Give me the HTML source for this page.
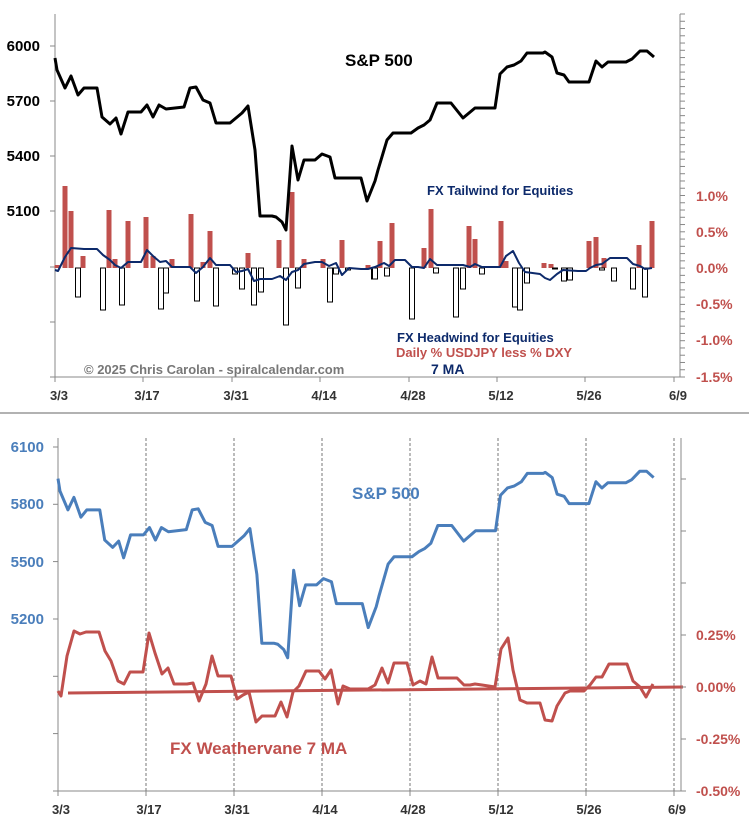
<!DOCTYPE html><html><head><meta charset="utf-8"><style>
body{margin:0;background:#fff;width:749px;height:824px;overflow:hidden}
svg text{font-family:"Liberation Sans",sans-serif;font-weight:bold}
</style></head><body>
<svg id="s" width="749" height="824" xmlns="http://www.w3.org/2000/svg">
<rect width="749" height="824" fill="#fff"/>
<line x1="0" y1="413" x2="749" y2="413" stroke="#999" stroke-width="1.5"/>
<g stroke="#888" stroke-width="1" fill="none">
<line x1="55" y1="14" x2="55" y2="377"/>
<line x1="55" y1="377" x2="680" y2="377"/>
<line x1="680" y1="14" x2="680" y2="377"/>
</g>
<g font-size="15" fill="#000" text-anchor="end">
<text x="40" y="51">6000</text><text x="40" y="106">5700</text><text x="40" y="161">5400</text><text x="40" y="216">5100</text>
</g>
<g font-size="14" fill="#c0504d">
<text x="696" y="201">1.0%</text><text x="696" y="237">0.5%</text><text x="696" y="273">0.0%</text>
<text x="696" y="309">-0.5%</text><text x="696" y="345">-1.0%</text><text x="696" y="382">-1.5%</text>
</g>
<g font-size="13" fill="#333" text-anchor="middle">
<text x="59" y="400">3/3</text><text x="147" y="400">3/17</text><text x="236" y="400">3/31</text><text x="324" y="400">4/14</text>
<text x="413" y="400">4/28</text><text x="501" y="400">5/12</text><text x="589" y="400">5/26</text><text x="678" y="400">6/9</text>
</g>
<text x="345" y="66" font-size="17" fill="#000">S&amp;P 500</text>
<text x="427" y="195" font-size="13" fill="#0d2a6b">FX Tailwind for Equities</text>
<text x="397" y="342" font-size="13" fill="#0d2a6b">FX Headwind for Equities</text>
<text x="396" y="357" font-size="13" fill="#c0504d">Daily % USDJPY less % DXY</text>
<text x="431" y="374" font-size="14" fill="#0d2a6b">7 MA</text>
<text x="84" y="374" font-size="13" fill="#777">© 2025 Chris Carolan - spiralcalendar.com</text>
<g stroke="#888" stroke-width="1" fill="none">
<line x1="58" y1="438" x2="58" y2="791"/>
<line x1="58" y1="791" x2="681" y2="791"/>
<line x1="681" y1="438" x2="681" y2="791"/>
</g>
<g stroke="#777" stroke-width="1" stroke-dasharray="3,2">
<line x1="146" y1="438" x2="146" y2="791"/><line x1="234" y1="438" x2="234" y2="791"/><line x1="322" y1="438" x2="322" y2="791"/>
<line x1="410" y1="438" x2="410" y2="791"/><line x1="498" y1="438" x2="498" y2="791"/><line x1="586" y1="438" x2="586" y2="791"/><line x1="674" y1="438" x2="674" y2="791"/>
</g>
<g font-size="15" fill="#4a7ebb" text-anchor="end">
<text x="44" y="452">6100</text><text x="44" y="509">5800</text><text x="44" y="567">5500</text><text x="44" y="624">5200</text>
</g>
<g font-size="14" fill="#c0504d">
<text x="696" y="640">0.25%</text><text x="696" y="692">0.00%</text><text x="696" y="744">-0.25%</text><text x="696" y="796">-0.50%</text>
</g>
<g font-size="13" fill="#333" text-anchor="middle">
<text x="61" y="814">3/3</text><text x="149" y="814">3/17</text><text x="237" y="814">3/31</text><text x="325" y="814">4/14</text>
<text x="413" y="814">4/28</text><text x="501" y="814">5/12</text><text x="589" y="814">5/26</text><text x="677" y="814">6/9</text>
</g>
<text x="352" y="499" font-size="17" fill="#4a7ebb">S&amp;P 500</text>
<text x="170" y="754" font-size="17" fill="#c0504d">FX Weathervane 7 MA</text>
<line x1="68" y1="693" x2="683" y2="687" stroke="#c0504d" stroke-width="3"/>
</svg>
<script>
var s=document.getElementById('s'),NS='http://www.w3.org/2000/svg';
function el(t,a){var e=document.createElementNS(NS,t);for(var k in a)e.setAttribute(k,a[k]);s.appendChild(e);return e;}
function poly(p,c,w){el('polyline',{points:p.map(function(q){return q[0]+','+q[1]}).join(' '),fill:'none',stroke:c,'stroke-width':w,'stroke-linejoin':'round'});}
[46,101,156,211,267,322,377].forEach(function(y){el('line',{x1:50,y1:y,x2:55,y2:y,stroke:'#888'})});
[55,143,232,320,409,497,585,674].forEach(function(x){el('line',{x1:x,y1:377,x2:x,y2:382,stroke:'#888'})});
for(var y=14;y<=377;y+=7.26){el('line',{x1:680,y1:y,x2:685,y2:y,stroke:'#888'})}
[447,504.3,561.6,619,676.3,733.6,791].forEach(function(y){el('line',{x1:53,y1:y,x2:58,y2:y,stroke:'#888'})});
[58,146,234,322,410,498,586,674].forEach(function(x){el('line',{x1:x,y1:791,x2:x,y2:796,stroke:'#888'})});
[479,531,583,635,687,739,791].forEach(function(y){el('line',{x1:681,y1:y,x2:686,y2:y,stroke:'#888'})});
var red=[[57,265],[65,186],[71,211],[83,256],[109,210],[115,259],[128,221],[146,217],[153,256],[172,259],[191,214],[203,262],[210,231],[248,253],[279,240],[292,192],[304,259],[323,259],[342,240],[368,265],[380,241],[392,223],[424,248],[431,209],[469,226],[475,239],[501,221],[506,261],[544,263],[551,264],[589,241],[596,237],[604,258],[639,245],[652,221]];
var wh=[[78,297],[103,310],[122,305],[161,309],[166,293],[197,301],[216,306],[235,274],[242,289],[254,305],[261,292],[286,325],[298,288],[330,302],[336,274],[348,270],[374,279],[375,279],[387,276],[412,319],[436,273],[456,317],[463,289],[482,274],[515,307],[520,310],[527,283],[555,269],[564,281],[570,280],[602,270],[614,281],[633,289],[645,297]];
red.forEach(function(b){el('rect',{x:b[0]-2.5,y:b[1],width:5,height:268-b[1],fill:'#c0504d'})});
wh.forEach(function(b){el('rect',{x:b[0]-2.5,y:268,width:5,height:b[1]-268,fill:'#fff',stroke:'#000','stroke-width':1})});
var sp=[[55,58],[57,70],[65,88],[71,76],[78,95],[84,88],[97,88],[102,117],[110,124],[116,118],[121,134],[128,112],[141,112],[147,105],[153,117],[159,105],[166,109],[184,107],[190,88],[196,87],[203,100],[210,103],[216,123],[230,123],[236,118],[242,113],[248,106],[255,150],[260,216],[272,216],[276,217],[282,222],[286,230],[292,146],[298,180],[304,160],[315,160],[322,154],[330,157],[335,178],[342,178],[361,178],[367,201],[375,181],[378,170],[387,140],[393,133],[411,133],[418,128],[424,125],[430,120],[437,103],[451,103],[463,118],[475,108],[495,108],[500,74],[507,67],[514,65],[521,61],[527,53],[543,53],[545,52],[552,57],[557,73],[564,75],[569,82],[589,82],[596,61],[602,67],[608,62],[626,62],[632,59],[640,51],[647,51],[654,57]];
poly(sp,'#000',3);
var ma=[[55,270],[58,271],[65,257],[71,248],[84,249],[97,249],[103,255],[110,260],[115,265],[121,268],[128,262],[141,262],[147,250],[153,256],[160,262],[166,261],[172,267],[190,267],[196,273],[203,267],[210,258],[216,265],[230,265],[236,272],[242,271],[248,269],[254,281],[260,279],[272,279],[280,276],[286,280],[292,272],[298,270],[304,264],[315,262],[322,262],[329,266],[336,263],[342,275],[349,268],[361,269],[368,269],[375,267],[384,263],[389,266],[395,260],[405,260],[412,267],[418,267],[424,268],[430,259],[437,265],[463,265],[470,267],[475,264],[482,267],[500,267],[506,256],[513,251],[519,263],[525,272],[540,274],[545,278],[550,280],[557,274],[563,270],[578,271],[586,271],[590,268],[596,265],[602,264],[610,258],[627,258],[633,264],[640,266],[645,269],[652,268]];
poly(ma,'#0d2a6b',2);
var sp2=sp.map(function(p){var v=6000-(p[1]-46)*300/55;return [58+(p[0]-55)*88/88.5,447+(6100-v)*57.3/300]});
poly(sp2,'#4a7ebb',3);
var wv=[[58,691],[61,696],[67,656],[74,631],[80,634],[86,632],[99,632],[105,651],[111,661],[118,681],[124,684],[130,672],[143,672],[149,633],[155,653],[162,674],[168,668],[174,684],[187,684],[193,683],[199,701],[206,684],[212,656],[218,676],[231,676],[237,699],[243,695],[249,692],[256,722],[262,716],[275,716],[281,702],[287,717],[293,692],[299,686],[306,671],[319,671],[325,679],[331,670],[338,704],[343,686],[350,689],[368,689],[375,685],[382,668],[388,683],[394,663],[407,663],[413,685],[420,681],[426,684],[432,657],[438,678],[457,678],[464,685],[470,685],[475,684],[482,685],[495,687],[501,649],[508,638],[513,670],[520,700],[527,703],[540,703],[545,720],[552,721],[557,706],[565,693],[570,691],[584,691],[590,685],[596,677],[602,677],[609,664],[627,664],[633,681],[640,687],[646,697],[653,684]];
poly(wv,'#c0504d',3);
</script>
</body></html>
